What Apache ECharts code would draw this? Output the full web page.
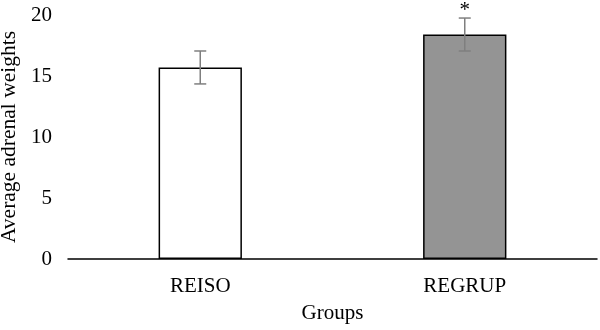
<!DOCTYPE html>
<html>
<head>
<meta charset="utf-8">
<script src="https://cdn.jsdelivr.net/npm/echarts@6/dist/echarts.min.js"></script>
<style>
  html, body { margin: 0; padding: 0; background: #fff; }
  #chart { width: 600px; height: 330px; }
</style>
</head>
<body>
<div id="chart"></div>
<script>
// data
const groups = ['REISO', 'REGRUP']
const means = [15.7, 18.4]
const errors = [1.35, 1.35]
const marks = ['', '*']
const barColors = ['#ffffff', '#949494']
const yTicks = [0, 5, 10, 15, 20]

const font = 'Liberation Serif, Times New Roman, serif'
const chart = echarts.init(document.getElementById('chart'))

const option = {
  animation: false,
  backgroundColor: '#fff',
  grid: { left: 68, right: 3, top: 15, bottom: 71, outerBoundsMode: 'none', containLabel: false },
  xAxis: {
    type: 'category',
    data: groups,
    name: 'Groups',
    nameLocation: 'middle',
    nameGap: 44,
    nameTextStyle: { fontFamily: font, fontSize: 21, color: '#000' },
    axisLine: { lineStyle: { color: '#000', width: 1.5 } },
    axisTick: { show: false },
    axisLabel: { fontFamily: font, fontSize: 21, color: '#000', margin: 17 }
  },
  yAxis: {
    type: 'value',
    min: yTicks[0],
    max: yTicks[yTicks.length - 1],
    interval: 5,
    name: 'Average adrenal weights',
    nameLocation: 'middle',
    nameRotate: 90,
    nameGap: 42,
    nameTextStyle: { fontFamily: font, fontSize: 21.5, color: '#000' },
    axisLine: { show: false },
    axisTick: { show: false },
    splitLine: { show: false },
    axisLabel: { fontFamily: font, fontSize: 21, color: '#000', margin: 16 }
  },
  series: [
    {
      type: 'bar',
      barWidth: '31.5%',
      data: means.map((v, i) => ({
        value: v,
        itemStyle: { color: barColors[i], borderColor: '#000', borderWidth: 1.5 }
      }))
    },
    {
      // error bars + significance mark
      type: 'custom',
      z: 5,
      data: means.map((v, i) => [i, v - errors[i], v + errors[i]]),
      renderItem: (params, api) => {
        const i = api.value(0)
        const lo = api.coord([i, api.value(1)])
        const hi = api.coord([i, api.value(2)])
        const x = lo[0]
        const cap = 6
        const style = { stroke: '#7f7f7f', lineWidth: 1.5 }
        const children = [
          { type: 'line', shape: { x1: x, y1: lo[1], x2: x, y2: hi[1] }, style },
          { type: 'line', shape: { x1: x - cap, y1: hi[1], x2: x + cap, y2: hi[1] }, style },
          { type: 'line', shape: { x1: x - cap, y1: lo[1], x2: x + cap, y2: lo[1] }, style }
        ]
        if (marks[i]) {
          children.push({
            type: 'text',
            style: {
              text: marks[i], x: x, y: hi[1] + 3,
              align: 'center', verticalAlign: 'bottom',
              font: '21px ' + font, fill: '#000'
            }
          })
        }
        return { type: 'group', children }
      }
    }
  ]
}
chart.setOption(option)
</script>
</body>
</html>
